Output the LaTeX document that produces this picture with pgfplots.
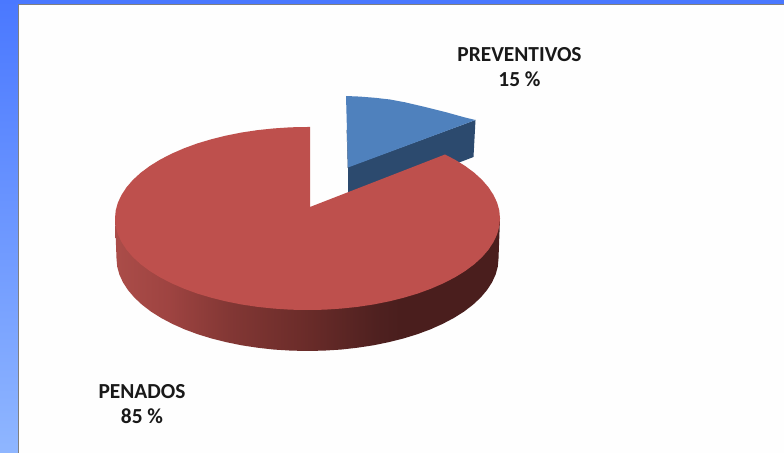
\documentclass[border=0pt]{standalone}
\usepackage{pgfplots}
\pgfplotsset{compat=1.18}
\usepackage{fontspec}
\setmainfont{Carlito}
\definecolor{bgtop}{RGB}{74,120,255}
\definecolor{bgbot}{RGB}{143,182,255}
\definecolor{panel}{RGB}{254,254,254}
\definecolor{frameline}{RGB}{128,128,128}
\definecolor{redtop}{RGB}{190,80,77}
\definecolor{bluetop}{RGB}{79,129,189}
\definecolor{blueside}{RGB}{44,74,110}
% side of the big slice, light on the left, dark from about x=400
\pgfdeclarehorizontalshading{redside}{100bp}{
  rgb(0bp)=(.67,.30,.285);
  rgb(25bp)=(.67,.30,.285);
  rgb(32bp)=(.62,.265,.255);
  rgb(40bp)=(.51,.215,.205);
  rgb(49bp)=(.425,.175,.165);
  rgb(59bp)=(.31,.128,.125);
  rgb(62bp)=(.29,.118,.114);
  rgb(100bp)=(.29,.118,.114)}
\begin{document}
\begin{tikzpicture}
\begin{axis}[x=1bp, y=1bp,
             xmin=0, xmax=784,
             ymin=0, ymax=453,
             y dir=reverse,
             hide axis,
             clip=true]
  % background and white panel
  \addplot[draw=none, shading=axis, top color=bgtop, bottom color=bgbot]
    coordinates {(0,0) (784,0) (784,453) (0,453)} -- cycle;
  \addplot[draw=none, fill=frameline]
    coordinates {(17.6,3.8) (784,3.8) (784,453) (17.6,453)} -- cycle;
  \addplot[draw=none, fill=panel]
    coordinates {(19,5) (784,5) (784,453) (19,453)} -- cycle;

  % small slice: side
  \addplot[draw=none, fill=blueside] coordinates {
    (348,167) (475.5,120) (473.5,157) (348,205)
  } -- cycle;
  % small slice: thin dark edge on the left
  \addplot[blueside, line width=0.5pt] coordinates {(346.9,130) (348,168)};
  % small slice: top
  \addplot[draw=none, fill=bluetop] coordinates {
    (346,96) (360,96.6) (375,97.8) (390,99.5) (405,102.3) (423,106.5)
    (447,112.5) (465,117.5) (475.5,120) (348,167.5)
  } -- cycle;

  % big slice: side
  \addplot[draw=none, shading=redside] coordinates {
    (500,218.5) (498.5,258.5) (497.8,266.6) (495.6,274.6) (492,282.4) (487,290.1)
    (480.6,297.6) (472.9,304.8) (464,311.6) (453.8,318) (442.6,323.9) (430.3,329.4)
    (417.1,334.3) (403,338.6) (388.2,342.3) (372.8,345.4) (356.9,347.8) (340.7,349.6)
    (324.1,350.6) (307.5,351) (290.9,350.6) (274.3,349.6) (258.1,347.8) (242.2,345.4)
    (226.8,342.3) (212,338.6) (197.9,334.3) (184.7,329.4) (172.4,323.9) (161.2,318)
    (151,311.6) (142.1,304.8) (134.4,297.6) (128,290.1) (123,282.4) (119.4,274.6)
    (117.2,266.6) (116.5,258.5) (115,218.5)
  } -- cycle;
  % big slice: top
  \addplot[draw=none, fill=redtop] coordinates {
    (310,207) (445,154.5) (455,159.7) (465.2,166) (474.2,172.7) (482,179.8)
    (488.4,187.2) (493.4,194.8) (497.1,202.6) (499.3,210.5) (500,218.5)
    (499.3,226.5) (497.1,234.4) (493.4,242.2) (488.4,249.8) (482,257.2)
    (474.2,264.3) (465.2,271) (455,277.3) (443.6,283.2) (431.2,288.6)
    (417.9,293.5) (403.8,297.7) (388.9,301.4) (373.3,304.5) (357.3,306.9)
    (340.9,308.6) (324.3,309.7) (307.5,310) (290.7,309.7) (274.1,308.6)
    (257.7,306.9) (241.7,304.5) (226.1,301.4) (211.2,297.7) (197.1,293.5)
    (183.8,288.6) (171.4,283.2) (160,277.3) (149.8,271) (140.8,264.3)
    (133,257.2) (126.6,249.8) (121.6,242.2) (117.9,234.4) (115.7,226.5)
    (115,218.5) (115.7,210.5) (117.9,202.6) (121.6,194.8) (126.6,187.2)
    (133,179.8) (140.8,172.7) (149.8,166) (160,159.7) (171.4,153.8)
    (183.8,148.4) (197.1,143.5) (211.2,139.3) (226.1,135.6) (241.7,132.5)
    (257.7,130.1) (274.1,128.4) (290.7,127.3) (307.5,127) (310,127)
  } -- cycle;

  % labels
  \node[anchor=base, font=\fontsize{21.4bp}{23bp}\selectfont\bfseries, text=black!90]
    at (axis cs:519.5,62) {PREVENTIVOS};
  \node[anchor=base, font=\fontsize{21.4bp}{23bp}\selectfont\bfseries, text=black!90]
    at (axis cs:519.5,87) {15 \%};
  \node[anchor=base, font=\fontsize{21.4bp}{23bp}\selectfont\bfseries, text=black!90]
    at (axis cs:142,398) {PENADOS};
  \node[anchor=base, font=\fontsize{21.4bp}{23bp}\selectfont\bfseries, text=black!90]
    at (axis cs:142,423) {85 \%};
\end{axis}
\end{tikzpicture}
\end{document}
